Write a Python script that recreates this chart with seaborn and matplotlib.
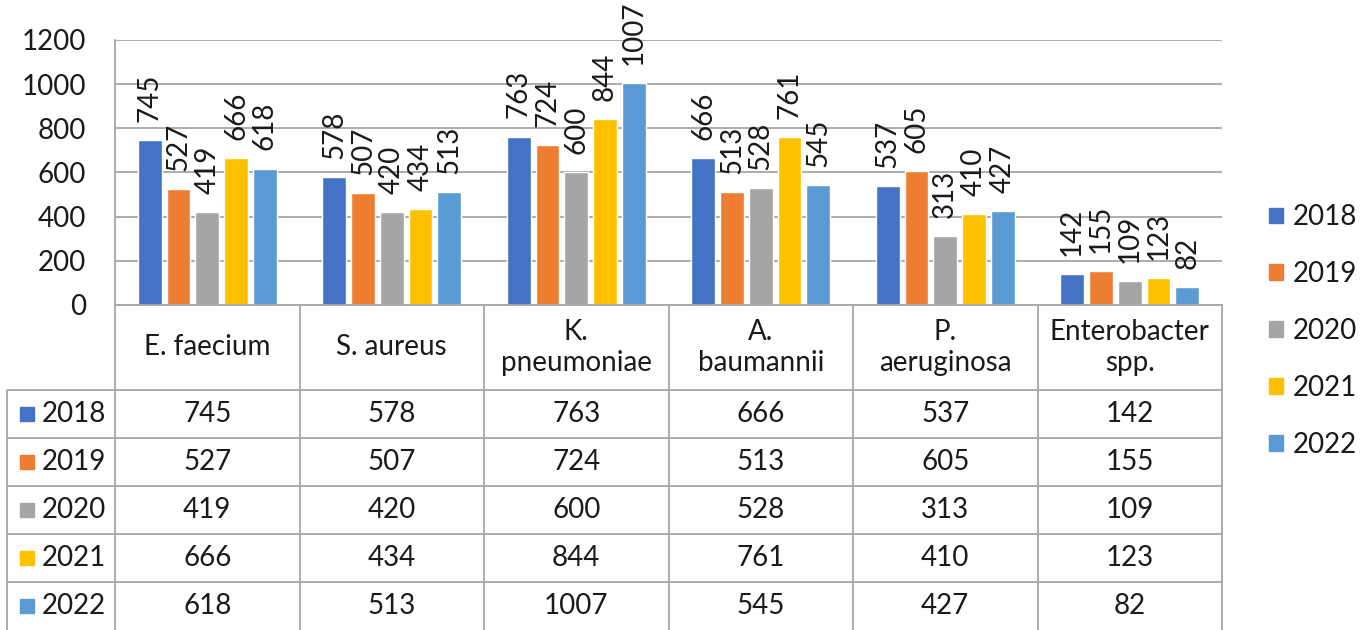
import matplotlib
matplotlib.use("Agg")
import matplotlib.pyplot as plt
from matplotlib.patches import Patch
import pandas as pd
import seaborn as sns

# ---- data -----------------------------------------------------------------
categories = ["E. faecium", "S. aureus", "K. pneumoniae", "A. baumannii",
              "P. aeruginosa", "Enterobacter spp."]
header_labels = ["E. faecium", "S. aureus", "K.\npneumoniae", "A.\nbaumannii",
                 "P.\naeruginosa", "Enterobacter\nspp."]
years = ["2018", "2019", "2020", "2021", "2022"]
values_2018 = [745, 578, 763, 666, 537, 142]
values_2019 = [527, 507, 724, 513, 605, 155]
values_2020 = [419, 420, 600, 528, 313, 109]
values_2021 = [666, 434, 844, 761, 410, 123]
values_2022 = [618, 513, 1007, 545, 427, 82]
colors = ["#4472C4", "#ED7D31", "#A5A5A5", "#FFC000", "#5B9BD5"]
yticks = [0, 200, 400, 600, 800, 1000, 1200]

series = [values_2018, values_2019, values_2020, values_2021, values_2022]
df = pd.DataFrame(
    [(cat, yr, v) for yr, vals in zip(years, series) for cat, v in zip(categories, vals)],
    columns=["pathogen", "year", "count"],
)

# ---- style ----------------------------------------------------------------
sns.set_style("white")
plt.rcParams["font.family"] = ["Lato", "DejaVu Sans"]
FS = 20
TXT = "#1a1a1a"
LINE = "#a6a6a6"
LW = 1.3

W, H = 1364, 630
fig = plt.figure(figsize=(W / 100, H / 100), dpi=100)
fig.patch.set_facecolor("white")

# layout in pixels
plot_left, plot_right, plot_top, plot_bottom = 115, 1222, 40, 305
col_w = (plot_right - plot_left) / len(categories)
table_left = 7
row_h = 48
header_h = 85

# ---- bar chart ------------------------------------------------------------
ax = fig.add_axes([plot_left / W, (H - plot_bottom) / H,
                   (plot_right - plot_left) / W, (plot_bottom - plot_top) / H])
sns.barplot(data=df, x="pathogen", y="count", hue="year", order=categories,
            hue_order=years, palette=colors, saturation=1, width=0.78, gap=0.17,
            legend=False, ax=ax, errorbar=None)
ax.set_ylim(0, 1200)
ax.set_xlim(-0.5, len(categories) - 0.5)
ax.set_yticks(yticks)
ax.set_xlabel("")
ax.set_ylabel("")
ax.tick_params(axis="x", bottom=False, labelbottom=False)
ax.tick_params(axis="y", length=7, width=LW, color=LINE, pad=14,
               labelsize=FS, labelcolor=TXT)
ax.yaxis.grid(True, color=LINE, lw=LW)
ax.set_axisbelow(True)
for s in ["top", "right"]:
    ax.spines[s].set_visible(False)
for s in ["left", "bottom"]:
    ax.spines[s].set_color(LINE)
    ax.spines[s].set_linewidth(LW)

for cont in ax.containers:
    ax.bar_label(cont, fmt="%g", rotation=90, padding=13, fontsize=FS, color=TXT)

# ---- data table -----------------------------------------------------------
label_col = (plot_left - table_left) / col_w
n_rows = len(years)
top = n_rows + header_h / row_h
tax = fig.add_axes([table_left / W, 0, (plot_right - table_left) / W,
                    (H - plot_bottom) / H])
tax.set_xlim(-0.5 - label_col, len(categories) - 0.5)
tax.set_ylim(0, top)
tax.axis("off")

x_left = -0.5 - label_col
x_right = len(categories) - 0.5
for k in range(1, n_rows + 1):
    tax.hlines(k, x_left, x_right, color=LINE, lw=LW, clip_on=False)
for k in range(len(categories) + 1):
    tax.vlines(k - 0.5, 0, top, color=LINE, lw=LW, clip_on=False)
tax.vlines(x_left, 0, n_rows, color=LINE, lw=LW, clip_on=False)

for i, lab in enumerate(header_labels):
    tax.text(i, n_rows + header_h / row_h / 2, lab, ha="center", va="center",
             fontsize=FS, color=TXT, linespacing=1.25)

for r, (yr, vals, c) in enumerate(zip(years, series, colors)):
    yc = n_rows - r - 0.5
    tax.plot(x_left + 20 / col_w, yc, marker="s", ms=10.5, color=c, mec=c)
    tax.text(x_left + 35 / col_w, yc, yr, ha="left", va="center",
             fontsize=FS, color=TXT)
    for i, v in enumerate(vals):
        tax.text(i, yc, f"{v}", ha="center", va="center", fontsize=FS, color=TXT)

# ---- legend ---------------------------------------------------------------
handles = [Patch(facecolor=c, edgecolor=c, label=y) for y, c in zip(years, colors)]
fig.legend(handles=handles, loc="center left",
           bbox_to_anchor=(1261 / W, (H - 331) / H), frameon=False,
           fontsize=FS, handlelength=0.5, handleheight=0.5,
           handletextpad=0.35, labelspacing=1.11, labelcolor=TXT,
           borderaxespad=0, borderpad=0.3)

fig.savefig("out.png", dpi=100, facecolor="white")
